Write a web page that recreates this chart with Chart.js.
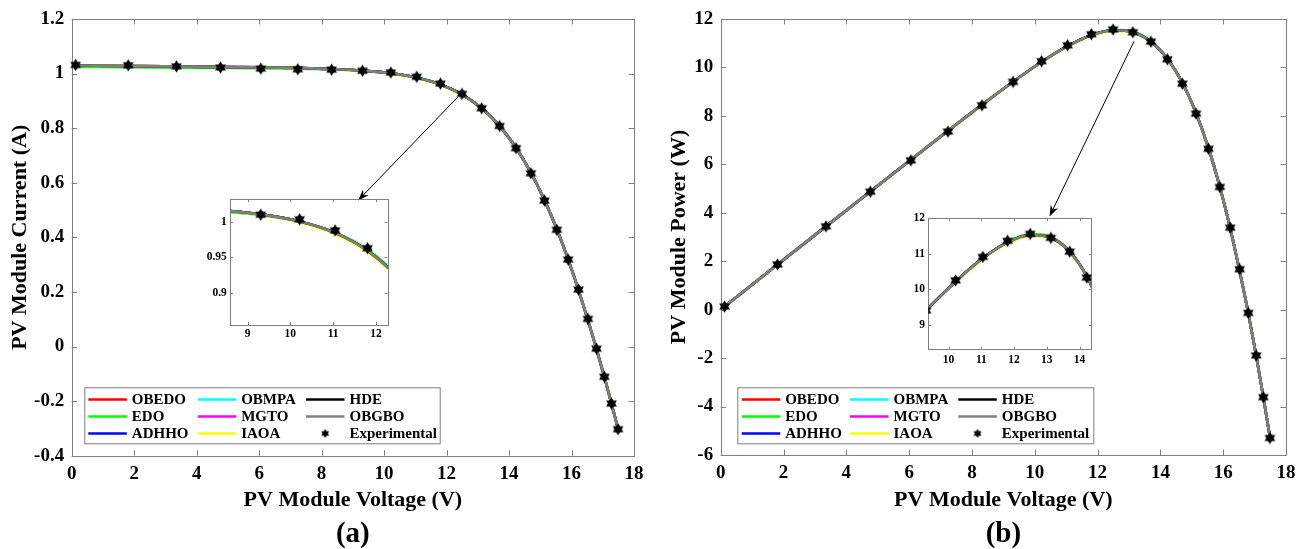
<!DOCTYPE html>
<html>
<head>
<meta charset="utf-8">
<script src="https://cdn.jsdelivr.net/npm/chart.js@4.4.0/dist/chart.umd.min.js"></script>
<style>
body{margin:0;background:#fff;}
#wrap{position:relative;width:1311px;height:549px;overflow:hidden;background:#fff;}
canvas{position:absolute;}
</style>
</head>
<body>
<div id="wrap">
<canvas id="chartA" width="655" height="549" style="left:0;top:0"></canvas>
<canvas id="chartB" width="656" height="549" style="left:655px;top:0"></canvas>
<canvas id="insetA" width="200" height="150" style="left:195px;top:189px"></canvas>
<canvas id="insetB" width="205" height="160" style="left:895px;top:208px"></canvas>
</div>
<script>
// measured points
const voltage = [0.1248, 1.8093, 3.3511, 4.7622, 6.0538, 7.2364, 8.3189, 9.3097, 10.2163, 11.0449, 11.8018, 12.4929, 13.1231,
  13.6983, 14.2221, 14.6995, 15.1346, 15.5311, 15.8929, 16.2229, 16.5241, 16.7987, 17.0499, 17.2793, 17.4885];
const currentExp = [1.0315, 1.0300, 1.0260, 1.0220, 1.0180, 1.0155, 1.0140, 1.0100, 1.0035, 0.9880, 0.9630, 0.9255, 0.8725,
  0.8075, 0.7265, 0.6345, 0.5345, 0.4275, 0.3185, 0.2085, 0.1010, -0.0080, -0.1110, -0.2090, -0.3030];
const powerExp = [0.1287, 1.8636, 3.4382, 4.8670, 6.1628, 7.3486, 8.4354, 9.4028, 10.2521, 10.9124, 11.3651, 11.5622, 11.4499,
  11.0614, 10.3324, 9.3268, 8.0894, 6.6395, 5.0619, 3.3825, 1.6689, -0.1344, -1.8925, -3.6114, -5.2990];

// fitted curves (OBEDO, ADHHO, OBMPA, MGTO, HDE, OBGBO lie on top of each other)
const currentFit = [1.0291, 1.0274, 1.0257, 1.0241, 1.0223, 1.0199, 1.0164, 1.0105, 1.0006, 0.9845, 0.9594, 0.9228, 0.8726,
  0.8073, 0.7283, 0.6371, 0.5362, 0.4295, 0.3188, 0.2074, 0.0962, -0.0083, -0.1109, -0.2092, -0.3009];
const currentEDO = [1.0240, 1.0228, 1.0216, 1.0205, 1.0192, 1.0174, 1.0146, 1.0095, 1.0004, 0.9852, 0.9610, 0.9248, 0.8745,
  0.8088, 0.7290, 0.6372, 0.5360, 0.4290, 0.3180, 0.2065, 0.0955, -0.0088, -0.1112, -0.2093, -0.3008];
const currentIAOA = [1.0295, 1.0278, 1.0260, 1.0243, 1.0224, 1.0198, 1.0160, 1.0098, 0.9995, 0.9830, 0.9578, 0.9210, 0.8710,
  0.8062, 0.7276, 0.6368, 0.5361, 0.4296, 0.3190, 0.2076, 0.0964, -0.0082, -0.1108, -0.2091, -0.3009];
const powerFit = [0.1284, 1.8589, 3.4372, 4.8770, 6.1888, 7.3804, 8.4553, 9.4075, 10.2224, 10.8737, 11.3227, 11.5285, 11.4512,
  11.0586, 10.3579, 9.3651, 8.1152, 6.6706, 5.0667, 3.3646, 1.5896, -0.1394, -1.8908, -3.6148, -5.2623];
const powerEDO = [0.1278, 1.8506, 3.4235, 4.8598, 6.1700, 7.3623, 8.4404, 9.3981, 10.2204, 10.8814, 11.3415, 11.5534, 11.4761,
  11.0792, 10.3679, 9.3665, 8.1121, 6.6628, 5.0539, 3.3500, 1.5781, -0.1478, -1.8959, -3.6166, -5.2605];
const powerIAOA = [0.1285, 1.8596, 3.4382, 4.8779, 6.1894, 7.3797, 8.4520, 9.4009, 10.2112, 10.8571, 11.3038, 11.5060, 11.4302,
  11.0436, 10.3480, 9.3606, 8.1137, 6.6722, 5.0698, 3.3679, 1.5929, -0.1377, -1.8891, -3.6131, -5.2623];

const methods = ['OBEDO', 'EDO', 'ADHHO', 'OBMPA', 'MGTO', 'IAOA', 'HDE', 'OBGBO'];
const methodColors = ['#ff0000', '#00ff00', '#0000ff', '#00ffff', '#ff00ff', '#ffff00', '#000000', '#808080'];

const voltTicks = [0, 2, 4, 6, 8, 10, 12, 14, 16, 18];
const currentTicks = [-0.4, -0.2, 0, 0.2, 0.4, 0.6, 0.8, 1, 1.2];
const powerTicks = [-6, -4, -2, 0, 2, 4, 6, 8, 10, 12];
const insetAVoltTicks = [9, 10, 11, 12];
const insetACurrentTicks = [0.9, 0.95, 1];
const insetBVoltTicks = [10, 11, 12, 13, 14];
const insetBPowerTicks = [9, 10, 11, 12];

const FONT = "'Liberation Serif', 'Times New Roman', serif";
const AXIS = '#7f7f7f';

function makeStar(r) {
  const c = document.createElement('canvas');
  const s = Math.ceil(r * 2) + 2;
  c.width = s; c.height = s;
  const g = c.getContext('2d');
  g.fillStyle = '#000';
  g.translate(s / 2, s / 2);
  [[-90, 30, 150], [90, 210, 330]].forEach(tri => {
    g.beginPath();
    tri.forEach((a, i) => {
      const t = a * Math.PI / 180;
      const px = r * Math.cos(t), py = r * Math.sin(t);
      if (i) g.lineTo(px, py); else g.moveTo(px, py);
    });
    g.closePath();
    g.fill();
  });
  return c;
}
const star = makeStar(6.2);
const legendStar = makeStar(4.6);

function pickCurrent(m) {
  if (m === 'EDO') return currentEDO;
  if (m === 'IAOA') return currentIAOA;
  return currentFit;
}
function pickPower(m) {
  if (m === 'EDO') return powerEDO;
  if (m === 'IAOA') return powerIAOA;
  return powerFit;
}

function buildDatasets(exp, pick, clipExp) {
  const sets = methods.map((m, i) => ({
    label: m,
    data: voltage.map((v, k) => ({x: v, y: pick(m)[k]})),
    borderColor: methodColors[i],
    backgroundColor: methodColors[i],
    borderWidth: 2.6,
    pointRadius: 0,
    cubicInterpolationMode: 'monotone',
    order: 8 - i,
    clip: clipExp === false ? undefined : 0
  }));
  sets.push({
    label: 'Experimental',
    data: voltage.map((v, k) => ({x: v, y: exp[k]})),
    showLine: false,
    pointStyle: star,
    pointRadius: 6,
    borderColor: '#000',
    backgroundColor: '#000',
    order: 0,
    clip: clipExp
  });
  return sets;
}

const fmt = v => String(Math.round(v * 100) / 100);

const framePlugin = {
  id: 'frame',
  beforeDatasetsDraw(chart, args, opts) {
    const {ctx, chartArea: a, scales: {x, y}} = chart;
    const len = opts.tick || 5;
    ctx.save();
    ctx.strokeStyle = AXIS;
    ctx.lineWidth = 1;
    ctx.strokeRect(Math.round(a.left) + 0.5, Math.round(a.top) + 0.5,
      Math.round(a.right - a.left), Math.round(a.bottom - a.top));
    ctx.beginPath();
    x.ticks.forEach(t => {
      const px = Math.round(x.getPixelForValue(t.value)) + 0.5;
      ctx.moveTo(px, a.bottom); ctx.lineTo(px, a.bottom - len);
      ctx.moveTo(px, a.top); ctx.lineTo(px, a.top + len);
    });
    y.ticks.forEach(t => {
      const py = Math.round(y.getPixelForValue(t.value)) + 0.5;
      ctx.moveTo(a.left, py); ctx.lineTo(a.left + len, py);
      ctx.moveTo(a.right, py); ctx.lineTo(a.right - len, py);
    });
    ctx.stroke();
    ctx.restore();
  }
};

const figLegendPlugin = {
  id: 'figLegend',
  afterDraw(chart, args, opts) {
    if (!opts.box) return;
    const ctx = chart.ctx;
    const b = opts.box;
    ctx.save();
    ctx.fillStyle = '#fff';
    ctx.fillRect(b.x, b.y, b.w, b.h);
    ctx.strokeStyle = AXIS;
    ctx.lineWidth = 1;
    ctx.strokeRect(b.x + 0.5, b.y + 0.5, b.w, b.h);
    ctx.font = 'bold 15px ' + FONT;
    ctx.textBaseline = 'middle';
    ctx.textAlign = 'left';
    chart.data.datasets.forEach((ds, i) => {
      const lx = opts.cols[Math.floor(i / 3)];
      const ly = opts.rows[i % 3];
      if (ds.showLine === false) {
        ctx.drawImage(legendStar, lx + opts.lineLen / 2 - legendStar.width / 2, ly - legendStar.height / 2);
      } else {
        ctx.strokeStyle = ds.borderColor;
        ctx.lineWidth = 2.5;
        ctx.beginPath();
        ctx.moveTo(lx, ly); ctx.lineTo(lx + opts.lineLen, ly);
        ctx.stroke();
      }
      ctx.fillStyle = '#000';
      ctx.fillText(ds.label, lx + opts.lineLen + 5, ly + 1);
    });
    ctx.restore();
  }
};

const arrowPlugin = {
  id: 'arrow',
  afterDraw(chart, args, opts) {
    if (!opts.from) return;
    const {ctx, scales: {x, y}} = chart;
    const x0 = x.getPixelForValue(opts.from[0]), y0 = y.getPixelForValue(opts.from[1]);
    const x1 = x.getPixelForValue(opts.to[0]), y1 = y.getPixelForValue(opts.to[1]);
    const ang = Math.atan2(y1 - y0, x1 - x0);
    const hl = 11, hw = 4;
    ctx.save();
    ctx.strokeStyle = '#000';
    ctx.fillStyle = '#000';
    ctx.lineWidth = 1;
    ctx.beginPath();
    ctx.moveTo(x0, y0);
    ctx.lineTo(x1 - Math.cos(ang) * hl * 0.7, y1 - Math.sin(ang) * hl * 0.7);
    ctx.stroke();
    const bx = x1 - Math.cos(ang) * hl, by = y1 - Math.sin(ang) * hl;
    const nx = -Math.sin(ang), ny = Math.cos(ang);
    ctx.beginPath();
    ctx.moveTo(x1, y1);
    ctx.lineTo(bx + nx * hw, by + ny * hw);
    ctx.lineTo(x1 - Math.cos(ang) * hl * 0.7, y1 - Math.sin(ang) * hl * 0.7);
    ctx.lineTo(bx - nx * hw, by - ny * hw);
    ctx.closePath();
    ctx.fill();
    ctx.restore();
  }
};

function tickFont(size) {
  return {family: FONT, size: size, weight: 'bold'};
}

function mainChart(id, cfg) {
  return new Chart(document.getElementById(id), {
    type: 'line',
    data: {datasets: buildDatasets(cfg.exp, cfg.pick, false)},
    plugins: [framePlugin, figLegendPlugin, arrowPlugin],
    options: {
      responsive: false,
      animation: false,
      layout: {padding: {left: 0, right: cfg.padRight, top: 15, bottom: 0}},
      scales: {
        x: {
          type: 'linear', min: 0, max: 18,
          afterBuildTicks: s => { s.ticks = voltTicks.map(v => ({value: v})); },
          afterFit: s => { s.height = cfg.xHeight; },
          grid: {display: false, drawTicks: false},
          border: {display: false},
          ticks: {padding: 7, autoSkip: false, maxRotation: 0, color: '#000', font: tickFont(19), callback: v => fmt(v)},
          title: {display: true, text: 'PV Module Voltage (V)', color: '#000', font: tickFont(22), padding: {top: 0, bottom: 6.8}}
        },
        y: {
          type: 'linear', min: cfg.yTicks[0], max: cfg.yTicks[cfg.yTicks.length - 1],
          afterBuildTicks: s => { s.ticks = cfg.yTicks.map(v => ({value: v})); },
          afterFit: s => { s.width = cfg.yWidth; },
          grid: {display: false, drawTicks: false},
          border: {display: false},
          ticks: {padding: 7.5, autoSkip: false, color: '#000', font: tickFont(19), callback: v => fmt(v)},
          title: {display: true, text: cfg.yTitle, color: '#000', font: tickFont(22), padding: {top: cfg.yTitlePad, bottom: 0}}
        }
      },
      plugins: {
        legend: {display: false},
        tooltip: {enabled: false},
        title: {display: true, text: cfg.tag, position: 'bottom', fullSize: false, color: '#000',
          font: {family: FONT, size: 29, weight: 'bold', lineHeight: 1}, padding: 0},
        frame: {tick: 5.5},
        figLegend: cfg.legend,
        arrow: cfg.arrow
      }
    }
  });
}

function insetChart(id, cfg) {
  return new Chart(document.getElementById(id), {
    type: 'line',
    data: {datasets: buildDatasets(cfg.exp, cfg.pick, 0)},
    plugins: [framePlugin],
    options: {
      responsive: false,
      animation: false,
      layout: {padding: {left: 0, right: cfg.padRight, top: cfg.padTop, bottom: 0}},
      scales: {
        x: {
          type: 'linear', min: cfg.xRange[0], max: cfg.xRange[1],
          afterBuildTicks: s => { s.ticks = cfg.xTicks.map(v => ({value: v})); },
          afterFit: s => { s.height = cfg.xHeight; },
          grid: {display: false, drawTicks: false},
          border: {display: false},
          ticks: {padding: cfg.xPad, autoSkip: false, maxRotation: 0, color: '#000', font: tickFont(11.5), callback: v => fmt(v)}
        },
        y: {
          type: 'linear', min: cfg.yRange[0], max: cfg.yRange[1],
          afterBuildTicks: s => { s.ticks = cfg.yTicks.map(v => ({value: v})); },
          afterFit: s => { s.width = cfg.yWidth; },
          grid: {display: false, drawTicks: false},
          border: {display: false},
          ticks: {padding: 3.2, autoSkip: false, color: '#000', font: tickFont(11.5), callback: v => fmt(v)}
        }
      },
      plugins: {
        legend: {display: false},
        tooltip: {enabled: false},
        frame: {tick: 3}
      }
    }
  });
}

mainChart('chartA', {
  exp: currentExp, pick: pickCurrent, yTicks: currentTicks, yTitle: 'PV Module Current (A)', tag: '(a)',
  padRight: 21, xHeight: 64.3, yWidth: 71.7, yTitlePad: 7.5,
  legend: {box: {x: 84.3, y: 387.3, w: 355.4, h: 56}, cols: [88.3, 197.7, 306], rows: [399.5, 416.5, 433.5], lineLen: 38.5},
  arrow: {from: [12.36, 0.914], to: [9.17, 0.535]}
});

mainChart('chartB', {
  exp: powerExp, pick: pickPower, yTicks: powerTicks, yTitle: 'PV Module Power (W)', tag: '(b)',
  padRight: 25, xHeight: 65, yWidth: 65.7, yTitlePad: 11.4,
  legend: {box: {x: 82.3, y: 387.3, w: 356, h: 56}, cols: [86.7, 195, 303.3], rows: [399.5, 416.5, 433.5], lineLen: 38.5},
  arrow: {from: [13.16, 11.07], to: [10.47, 3.845]}
});

insetChart('insetA', {
  exp: currentExp, pick: pickCurrent, xTicks: insetAVoltTicks, yTicks: insetACurrentTicks,
  xRange: [8.59, 12.27], yRange: [0.855, 1.032],
  padRight: 7.5, padTop: 10, xHeight: 14, yWidth: 35, xPad: 2.6
});

insetChart('insetB', {
  exp: powerExp, pick: pickPower, xTicks: insetBVoltTicks, yTicks: insetBPowerTicks,
  xRange: [9.38, 14.37], yRange: [8.3, 12],
  padRight: 8.3, padTop: 10.3, xHeight: 18.3, yWidth: 33.3, xPad: 3.6
});
</script>
</body>
</html>
